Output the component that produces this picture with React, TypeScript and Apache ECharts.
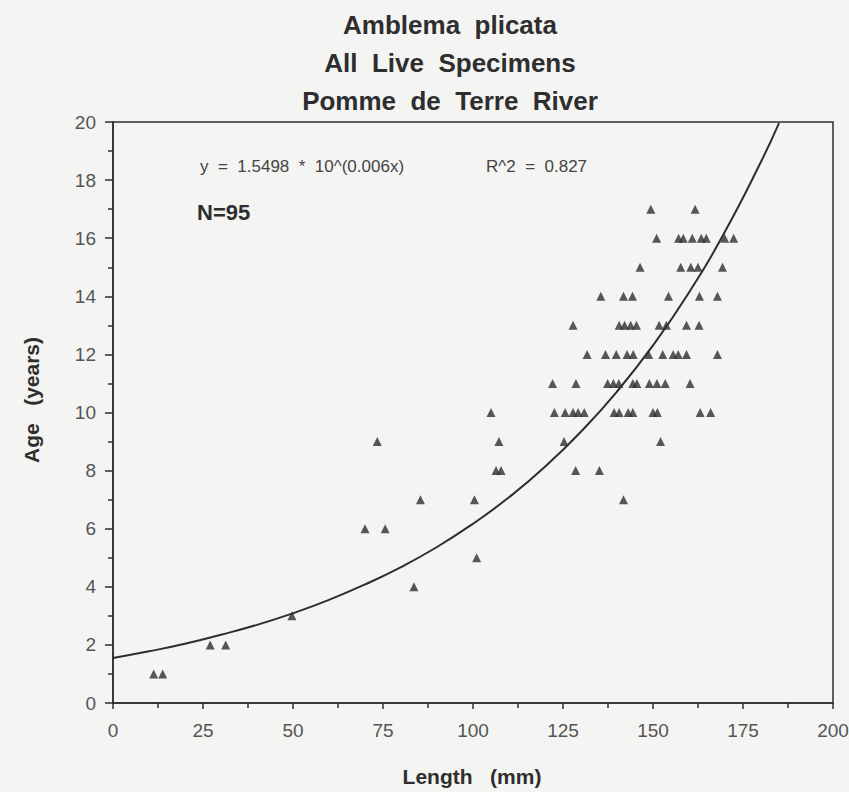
import React, { useEffect, useRef } from "react";
import * as echarts from "echarts";

// Specimen data (length in mm, age in years), paired by index
const lengthsMm: number[] = [
  11.3, 13.8,
  27.0, 31.3,
  49.7,
  83.6,
  101.0,
  70.0, 75.6,
  85.4, 100.4, 141.8,
  106.4, 107.8, 128.5, 135.1,
  73.4, 107.2, 125.3, 152.1,
  105.0, 122.6, 125.6, 127.8, 129.2, 130.9, 139.2, 140.6, 143.1, 144.4, 150.0, 151.2, 163.1, 166.0,
  122.1, 128.6, 137.4, 139.0, 140.5, 144.4, 145.5, 149.0, 151.1, 153.4, 160.3,
  131.7, 136.8, 139.8, 142.8, 144.5, 148.8, 152.7, 155.6, 157.0, 159.3, 167.9,
  127.8, 140.6, 142.1, 143.8, 145.4, 151.7, 153.7, 159.3, 162.8,
  135.5, 141.8, 144.3, 154.3, 162.9, 167.9,
  146.4, 157.7, 160.5, 162.5, 169.3,
  151.0, 157.1, 158.4, 160.9, 163.4, 164.8, 169.9, 172.4,
  149.4, 161.7,
];
const agesYears: number[] = [
  1, 1,
  2, 2,
  3,
  4,
  5,
  6, 6,
  7, 7, 7,
  8, 8, 8, 8,
  9, 9, 9, 9,
  10, 10, 10, 10, 10, 10, 10, 10, 10, 10, 10, 10, 10, 10,
  11, 11, 11, 11, 11, 11, 11, 11, 11, 11, 11,
  12, 12, 12, 12, 12, 12, 12, 12, 12, 12, 12,
  13, 13, 13, 13, 13, 13, 13, 13, 13,
  14, 14, 14, 14, 14, 14,
  15, 15, 15, 15, 15,
  16, 16, 16, 16, 16, 16, 16, 16,
  17, 17,
];

// Fitted curve as drawn (y = 1.5498 * 10^(0.006x)), read at these lengths
const curveX: number[] = [0, 10, 20, 30, 40, 50, 60, 70, 80, 90, 100, 110, 120, 130, 140, 150, 160, 170, 180, 185];
const curveY: number[] = [1.55, 1.78, 2.04, 2.35, 2.69, 3.09, 3.55, 4.08, 4.68, 5.37, 6.17, 7.08, 8.13, 9.34, 10.72, 12.31, 14.13, 16.23, 18.63, 19.96];

const titleLines: string[] = ["Amblema  plicata", "All  Live  Specimens", "Pomme  de  Terre  River"];
const equationText = "y  =  1.5498  *  10^(0.006x)";
const r2Text = "R^2  =  0.827";
const nText = "N=95";
const xAxisTitle = "Length   (mm)";
const yAxisTitle = "Age   (years)";

const INK = "#2e2e2e";
const LABEL = "#555555";
const FONT = "'Liberation Sans', Arial, Helvetica, sans-serif";

export default function App() {
  const ref = useRef<HTMLDivElement>(null);

  useEffect(() => {
    if (!ref.current) return;
    const chart = echarts.init(ref.current, null, { renderer: "svg" });
    const points = lengthsMm.map((x, i) => [x, agesYears[i]]);
    const curve = curveX.map((x, i) => [x, curveY[i]]);

    chart.setOption({
      animation: false,
      backgroundColor: "#f4f4f2",
      textStyle: { fontFamily: FONT },
      grid: {
        left: 113,
        right: 16,
        top: 122,
        bottom: 89,
        containLabel: false,
        outerBoundsMode: "none",
        show: true,
        borderColor: INK,
        borderWidth: 1.5,
        backgroundColor: "transparent",
      },
      xAxis: {
        type: "value",
        min: 0,
        max: 200,
        interval: 25,
        axisLine: { show: true, onZero: false, lineStyle: { color: INK, width: 1.5 } },
        axisTick: { show: true, inside: false, length: 6, lineStyle: { color: INK, width: 1.5 } },
        minorTick: { show: true, splitNumber: 2, length: 5, lineStyle: { color: INK, width: 1.5 } },
        axisLabel: { fontFamily: FONT, fontSize: 19, color: LABEL, margin: 18 },
        splitLine: { show: false },
      },
      yAxis: {
        type: "value",
        min: 0,
        max: 20,
        interval: 2,
        axisLine: { show: true, onZero: false, lineStyle: { color: INK, width: 1.5 } },
        axisTick: { show: true, inside: false, length: 8, lineStyle: { color: INK, width: 1.5 } },
        minorTick: { show: true, splitNumber: 2, length: 5, lineStyle: { color: INK, width: 1.5 } },
        axisLabel: { fontFamily: FONT, fontSize: 19, color: LABEL, margin: 17 },
        splitLine: { show: false },
      },
      series: [
        {
          type: "line",
          data: curve,
          smooth: true,
          showSymbol: false,
          symbol: "none",
          lineStyle: { color: INK, width: 2 },
          z: 2,
        },
        {
          type: "scatter",
          data: points,
          symbol: "triangle",
          symbolSize: 9,
          itemStyle: { color: INK },
          z: 3,
        },
      ],
      graphic: [
        ...titleLines.map((t, i) => ({
          type: "text",
          x: 450,
          y: 25 + i * 38,
          style: {
            text: t,
            fontFamily: FONT,
            fontSize: 26,
            fontWeight: "bold",
            fill: INK,
            textAlign: "center",
            textVerticalAlign: "middle",
          },
        })),
        {
          type: "text",
          x: 472,
          y: 776,
          style: {
            text: xAxisTitle,
            fontFamily: FONT,
            fontSize: 21,
            fontWeight: "bold",
            fill: INK,
            textAlign: "center",
            textVerticalAlign: "middle",
          },
        },
        {
          type: "text",
          x: 31,
          y: 400,
          rotation: Math.PI / 2,
          style: {
            text: yAxisTitle,
            fontFamily: FONT,
            fontSize: 21,
            fontWeight: "bold",
            fill: INK,
            textAlign: "center",
            textVerticalAlign: "middle",
          },
        },
        {
          type: "text",
          x: 200,
          y: 166,
          style: { text: equationText, fontFamily: FONT, fontSize: 17, fill: "#444", textVerticalAlign: "middle" },
        },
        {
          type: "text",
          x: 486,
          y: 166,
          style: { text: r2Text, fontFamily: FONT, fontSize: 17, fill: "#444", textVerticalAlign: "middle" },
        },
        {
          type: "text",
          x: 197,
          y: 212,
          style: { text: nText, fontFamily: FONT, fontSize: 22, fontWeight: "bold", fill: INK, textVerticalAlign: "middle" },
        },
      ],
    });

    return () => chart.dispose();
  }, []);

  return (
    <div
      ref={ref}
      style={{ position: "fixed", left: 0, top: 0, width: 849, height: 792 }}
    />
  );
}
